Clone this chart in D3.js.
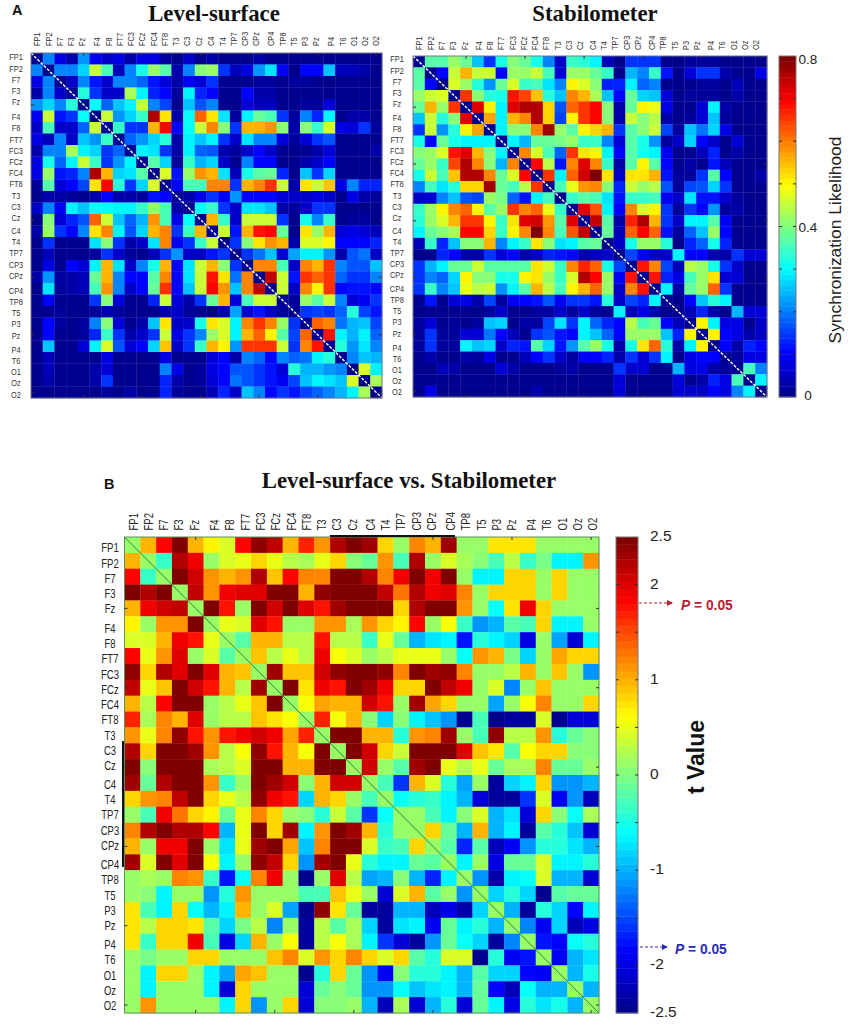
<!DOCTYPE html>
<html>
<head>
<meta charset="utf-8">
<style>
  html, body { margin: 0; padding: 0; background: #fff; }
  svg { display: block; font-family: "Liberation Sans", Arial, sans-serif; }
  .title { font-family: "Liberation Serif", "Times New Roman", serif; font-weight: bold; font-size: 22.8px; fill: #111; text-anchor: middle; }
  .panel-letter { font-weight: bold; font-size: 14.5px; fill: #111; }
  .frame-ticks path { display: none; }
  .cells { filter: blur(.45px); }
</style>
</head>
<body>
<div id="viz"></div>
<script src="https://cdn.jsdelivr.net/npm/d3@7"></script>
<script>
const channels = ["FP1","FP2","F7","F3","Fz","F4","F8","FT7","FC3","FCz","FC4","FT8","T3","C3","Cz","C4","T4","TP7","CP3","CPz","CP4","TP8","T5","P3","Pz","P4","T6","O1","Oz","O2"];

// upper triangle only, each row starts right of the diagonal (matrices are symmetric)
const levelSurface = [
  [.2,.08,.03,.22,.09,.06,.08,.03,.08,.08,.02,.01,.05,.01,.03,0,0,0,.03,.01,0,0,0,0,0,0,0,0,0],
  [.2,.2,.27,.45,.36,.04,.2,.32,.42,.37,.03,.2,.41,.42,.14,.04,.08,.22,.28,.09,0,.1,.1,.25,.04,.04,.03,0],
  [.05,.2,.12,.06,.2,.2,.18,.12,.07,.03,.09,.07,.14,.01,.01,.01,.02,.02,.01,.02,.02,0,0,0,0,0,0],
  [.33,.15,.05,.05,.43,.3,.13,.1,.02,.3,.13,.11,.01,.01,.1,.03,.03,0,0,0,0,0,0,0,0,0],
  [.31,.18,.26,.3,.46,.2,.16,.01,.26,.17,.2,.01,.01,.07,.04,.04,0,0,.02,.02,.07,0,0,0,0],
  [.45,.22,.27,.35,.75,.52,.03,.31,.62,.52,.28,.02,.29,.38,.36,.14,.02,.2,.13,.3,.01,.03,.03,.01],
  [.35,.15,.15,.56,.7,.1,.31,.46,.59,.41,.14,.55,.56,.58,.41,.03,.41,.35,.47,.08,.07,.15,.02],
  [.18,.22,.27,.33,.03,.3,.26,.3,.15,.05,.28,.2,.2,.07,.02,.07,.15,.17,0,0,0,0],
  [.3,.28,.15,.03,.3,.18,.17,.03,.02,.06,.1,.05,.01,0,.01,.03,.07,0,0,0,.03],
  [.37,.27,.02,.34,.24,.27,.06,.01,.2,.11,.1,.01,0,.03,.06,.1,0,0,0,0],
  [.47,.12,.42,.58,.56,.28,.04,.32,.37,.38,.13,.01,.25,.15,.27,0,0,0,0],
  [.11,.36,.36,.6,.6,.14,.55,.6,.65,.45,.03,.52,.46,.54,.08,.2,.13,.13],
  [.03,.08,.15,.09,.22,.11,.1,.1,.07,.05,.05,.08,.05,.01,.08,.03,.02],
  [.31,.34,.15,.05,.28,.28,.25,.03,.02,.06,.15,.15,.01,0,0,0],
  [.55,.34,.05,.46,.46,.46,.15,.01,.32,.2,.34,.01,.02,.02,.01],
  [.46,.12,.55,.68,.7,.38,.01,.52,.42,.56,.07,.08,.07,.04],
  [.14,.4,.52,.58,.55,.03,.47,.47,.51,.1,.1,.1,.13],
  [.14,.19,.25,.07,.23,.29,.29,.22,.03,.17,.19,.05],
  [.6,.6,.36,.06,.6,.55,.65,.2,.17,.17,.25],
  [.74,.45,.12,.65,.62,.65,.18,.14,.14,.2],
  [.46,.05,.6,.5,.66,.1,.12,.12,.1],
  [.02,.42,.37,.45,.2,.07,.09,.14],
  [.14,.16,.14,.18,.33,.16,.12],
  [.62,.6,.19,.24,.26,.16],
  [.68,.3,.24,.3,.18],
  [.33,.22,.28,.2],
  [.2,.25,.24],
  [.47,.3],
  [.43]
];

const stabilometer = [
  [.37,.37,.42,.38,.25,.14,.32,.41,.38,.32,.2,.06,.34,.33,.3,.04,.01,.14,.14,.14,0,0,.02,.02,.02,0,0,0,0],
  [.1,.46,.55,.45,.45,.1,.42,.42,.46,.36,.07,.42,.42,.38,.35,.01,.24,.2,.34,.12,0,.07,.15,.15,.03,0,0,.08],
  [.47,.42,.33,.22,.38,.47,.35,.36,.28,.2,.5,.47,.41,.13,.13,.3,.18,.2,.01,0,0,.02,.02,0,.04,0,0],
  [.65,.4,.33,.32,.68,.64,.54,.33,.25,.6,.55,.43,.25,.1,.38,.27,.25,.07,0,.02,.02,.02,0,.03,0,0],
  [.72,.5,.3,.72,.76,.76,.53,.17,.62,.66,.7,.4,.03,.38,.5,.48,.08,0,0,.07,.3,.03,0,0,0],
  [.57,.3,.55,.6,.76,.53,.16,.5,.66,.69,.41,.03,.45,.4,.44,.03,0,.02,.07,.26,.02,0,0,0],
  [.3,.4,.4,.59,.77,.42,.37,.51,.53,.56,.14,.37,.4,.45,.16,.02,.25,.19,.27,.08,0,0,0],
  [.3,.24,.38,.38,.39,.42,.34,.35,.21,.07,.37,.32,.22,.02,.06,.27,.11,.06,.01,.07,0,0],
  [.6,.47,.36,.18,.65,.52,.5,.3,.1,.37,.32,.3,.09,0,.01,.04,.13,.01,.03,0,0],
  [.7,.44,.12,.6,.72,.6,.35,.03,.37,.5,.37,.1,0,.03,.01,.12,.04,0,0,0],
  [.66,.3,.62,.73,.79,.52,.06,.52,.52,.55,.12,.02,.02,.15,.37,.1,0,0,.03],
  [.36,.48,.58,.6,.4,.13,.45,.42,.44,.17,.02,.16,.17,.27,.15,0,0,0],
  [.34,.37,.36,.28,.12,.34,.34,.36,.09,.05,.28,.12,.12,.06,.02,.01,.01],
  [.72,.63,.3,.1,.6,.47,.5,.15,.02,.15,.1,.22,.02,.03,0,0],
  [.74,.37,.03,.67,.75,.56,.15,.06,.29,.29,.37,.09,0,0,0],
  [.38,.04,.62,.7,.62,.12,.02,.18,.26,.42,.11,0,0,0],
  [.05,.32,.42,.42,.33,.01,.13,.18,.32,.13,0,0,0],
  [.16,.09,.06,.05,.3,.1,.1,.03,.03,.15,.07,.07],
  [.68,.6,.16,.04,.44,.42,.32,.15,.05,0,0],
  [.68,.13,.08,.36,.42,.52,.07,.07,0,0],
  [.3,.03,.38,.42,.62,.14,0,0,0],
  [.01,.1,.25,.33,.29,0,0,0],
  [.04,.13,.03,.01,.24,.07,.07],
  [.5,.3,.08,.08,.01,.05],
  [.5,.1,.08,.03,.05],
  [.11,.03,.13,.1],
  [.02,.08,.08],
  [.36,.2],
  [.3]
];

const tValues = [
  [.95,1.85,2.45,.95,.7,.45,1.8,2.4,2.15,1,1.7,1.15,2.2,2.45,2.3,.8,.1,1.2,1,2.3,.1,.1,.75,.75,.75,.1,.1,.1,.1],
  [-.35,2.2,1.9,.1,.45,.5,.85,.5,.25,.2,.5,.85,.05,-.1,1.1,-.3,2.2,.1,.45,.2,.05,-.3,.3,-.35,-.05,-.65,-.65,1.15],
  [2.45,2.1,1.1,.95,1.15,2.2,.9,1.8,1.2,1.2,2.45,2.45,2.2,1.2,1.95,2.45,1.9,2.45,.1,-.7,-.7,.8,.8,.1,.85,.1,.1],
  [2.15,1.1,1.95,2,2,2.45,2.45,1,2.4,2.45,2.45,2.45,2.15,1.3,2.2,1.95,2,1.2,.1,.8,.8,.8,.1,.85,.1,.1],
  [2.45,1.75,.15,2.45,2.1,2.45,2,1.75,2.3,2.45,2.45,2.45,.85,2.25,2.45,2.45,1.1,.1,-.6,.75,1.95,.85,.1,.1,.1],
  [.5,.4,2,1.75,.1,.15,1.15,1.1,.2,1.15,.8,.7,1.85,.15,.55,-.35,-1.1,-.95,-.2,-.25,.8,-.65,-.65,.1],
  [-.2,1,1,.25,.3,1.75,.3,.25,-.35,.5,-.15,-.95,-.75,-.7,-1.75,-.45,-.65,-.85,-2,.15,-1.05,-2.05,-.7],
  [.9,.3,.5,.3,1.95,.55,.4,.15,.3,.5,.5,.5,.15,-.55,1.15,1,-.05,-.8,.1,1.05,.85,.85],
  [2.3,.9,.9,2.05,2.4,2.45,2.45,2.4,1.2,2.45,2.3,2.4,1.2,.1,.1,.3,1,.1,.9,.1,-1.15],
  [2.45,.75,1.9,1.75,2.45,2.3,1.95,.8,.8,2.45,2.15,1.9,.1,.4,-1.2,.1,.9,.1,.1,.1],
  [.6,1.05,.95,1,2.05,1.75,.1,2.3,1.05,.85,.1,.1,-1.05,.1,.6,1.2,.1,.1,.8],
  [1.7,.6,1,.05,-.85,.05,-.65,-.9,-1.15,-2.5,-.3,-2.45,-2.4,-2.4,.45,-2.45,-2.1,-2.1],
  [2.45,2.45,1,1,-.4,1.1,1.2,2.3,.1,-.3,2.35,.3,.3,1.1,-.4,-.1,.05],
  [2.45,2.1,.8,.35,2.45,2.45,2.45,2,.9,.75,-.2,.6,.85,.85,.05,.05],
  [2.1,.15,-.2,2.3,2.45,.5,.25,.5,-.1,.2,.2,1.2,-.1,-.1,.1],
  [-.25,-1.6,.95,.45,-.4,-1.05,.1,-2.4,-.85,-.7,.8,-1.1,-1.1,-1],
  [-.6,-.45,-.35,-.65,-1,-2.05,-2.35,-2.4,-1.6,.45,-1.9,-1.15,-2.2],
  [.15,-.3,-.7,0,.4,-1,-.75,-2.1,.85,.05,-.6,.2],
  [.85,-.1,-1,.95,-.95,-.65,-2.4,-.2,-.4,-.9,-2.1],
  [-.2,-1.7,-.2,-2.25,-1.9,-1.1,-.45,-.4,-.75,-1],
  [-.65,.1,-2,-.1,-.1,.45,-.65,-.65,-.4],
  [-1.15,-2.3,-.65,-.6,.45,-1,-1,-2.1],
  [-.85,-.4,-.8,-2.45,-.2,-.15,-.1],
  [-.95,-2.4,-.4,-.8,-1.85,-.65],
  [-1.2,-1.95,-.85,-2.2,-2],
  [-1.75,-1.8,-.6,-.4],
  [-1.95,-.95,-.75],
  [-1,-.5],
  [-.95]
];

const syncTicks = [0, 0.4, 0.8];
const tTicks = [2.5, 2, 1, 0, -1, -2, -2.5];

const svg = d3.select("#viz")
  .append("svg")
  .attr("width", 850)
  .attr("height", 1025);

// 64 step jet colormap like the matlab figure
const jetStops = d3.scaleLinear()
  .domain([0, .125, .375, .625, .875, 1])
  .range(["#00008f", "#0000ff", "#00ffff", "#ffff00", "#ff0000", "#800000"])
  .clamp(true);

const jet = (vmin, vmax) => v => {
  let step = Math.min(63, Math.floor((v - vmin) / (vmax - vmin) * 64));
  return jetStops(step / 63);
};

function labelPositions(start, step, gaps) {
  let extra = 0;
  return channels.map((c, i) => {
    let p = start + step * i + extra;
    extra += gaps[c] || 0;
    return p;
  });
}

function drawMatrix(o) {
  const x = d3.scaleBand().domain(channels).range([o.x0, o.x1]);
  const y = d3.scaleBand().domain(channels).range([o.y0, o.y1]);
  const color = jet(o.vmin, o.vmax);

  let cells = [];
  channels.forEach((c, i) => {
    cells.push({row: c, col: c, v: o.diag});
    o.rows[i] && o.rows[i].forEach((v, k) => {
      let other = channels[i + k + 1];
      cells.push({row: c, col: other, v: v});
      cells.push({row: other, col: c, v: v});
    });
  });

  const g = svg.append("g");
  g.append("g")
    .attr("class", "cells")
    .selectAll("rect")
    .data(cells)
    .join("rect")
      .attr("x", d => x(d.col))
      .attr("y", d => y(d.row))
      .attr("width", x.bandwidth() + .3)
      .attr("height", y.bandwidth() + .3)
      .attr("fill", d => color(d.v));

  // diagonal
  g.append("line")
    .attr("x1", o.x0).attr("y1", o.y0)
    .attr("x2", o.x1).attr("y2", o.y1)
    .attr("stroke", o.diagColor)
    .attr("stroke-width", o.diagWidth)
    .attr("stroke-dasharray", o.diagDash);

  g.append("rect")
    .attr("x", o.x0).attr("y", o.y0)
    .attr("width", o.x1 - o.x0).attr("height", o.y1 - o.y0)
    .attr("fill", "none")
    .attr("stroke", o.frame);

  // small inward ticks, every fifth channel
  const fifth = channels.filter((c, i) => i % 5 == 4);
  const tickAxes = [
    [d3.axisBottom(x), `translate(0,${o.y1})`, -3],
    [d3.axisTop(x), `translate(0,${o.y0})`, -3],
    [d3.axisLeft(y), `translate(${o.x0},0)`, -3],
    [d3.axisRight(y), `translate(${o.x1},0)`, -3]
  ];
  tickAxes.forEach(a => {
    g.append("g")
      .attr("class", "frame-ticks")
      .attr("transform", a[1])
      .call(a[0].tickValues(fifth).tickSize(a[2]).tickFormat(""))
      .selectAll("line").attr("stroke", "#333");
  });

  // tick labels: squeezed like in the source figure, positions have small jumps
  const left = labelPositions(o.leftY, o.leftStep, o.leftGaps);
  const top = labelPositions(o.topX, o.topStep, o.topGaps);

  g.append("g").selectAll("text")
    .data(channels)
    .join("text")
      .attr("transform", (d, i) => `translate(${o.leftX},${left[i] + o.font * .36}) scale(.76,1)`)
      .attr("text-anchor", "middle")
      .attr("font-size", o.font)
      .attr("fill", o.labelColor)
      .text(d => d);

  g.append("g").selectAll("text")
    .data(channels)
    .join("text")
      .attr("transform", (d, i) => `translate(${top[i] + o.font * .36},${o.topBase}) rotate(-90) scale(.76,1)`)
      .attr("text-anchor", "start")
      .attr("font-size", o.font)
      .attr("fill", o.labelColor)
      .text(d => d);
}

function drawColorbar(o) {
  const scale = d3.scaleLinear().domain([o.vmin, o.vmax]).range([o.y1, o.y0]);
  const labelScale = scale.copy().range([o.y1 - o.labelInset, o.y0 + o.labelInset]);
  const color = jet(o.vmin, o.vmax);
  const dv = (o.vmax - o.vmin) / 64;
  const g = svg.append("g");

  g.selectAll("rect")
    .data(d3.range(64))
    .join("rect")
      .attr("x", o.x0)
      .attr("y", i => scale(o.vmin + dv * (i + 1)))
      .attr("width", o.x1 - o.x0)
      .attr("height", i => scale(o.vmin + dv * i) - scale(o.vmin + dv * (i + 1)) + .4)
      .attr("fill", i => color(o.vmin + dv * (i + .5)));

  g.append("rect")
    .attr("x", o.x0).attr("y", o.y0)
    .attr("width", o.x1 - o.x0).attr("height", o.y1 - o.y0)
    .attr("fill", "none").attr("stroke", "#777");

  // inner ticks on both edges
  g.selectAll("path.tick")
    .data(d3.range(1, o.nTicks))
    .join("path")
      .attr("class", "tick")
      .attr("d", i => {
        let ty = scale(o.vmin + (o.vmax - o.vmin) * i / o.nTicks);
        return `M${o.x0},${ty}h3M${o.x1},${ty}h-3`;
      })
      .attr("stroke", "#333")
      .attr("fill", "none");

  g.selectAll("text")
    .data(o.ticks)
    .join("text")
      .attr("x", o.labelX)
      .attr("y", d => labelScale(d) + o.labelDy)
      .attr("text-anchor", o.anchor)
      .attr("font-size", o.font)
      .attr("fill", "#222")
      .text(d => d);
}

// Panel A
svg.append("text").attr("class", "panel-letter").attr("x", 12).attr("y", 15).text("A");
svg.append("text").attr("class", "title").attr("x", 214).attr("y", 20.5).text("Level-surface");
svg.append("text").attr("class", "title").attr("x", 595).attr("y", 20.5).text("Stabilometer");

drawMatrix({
  rows: levelSurface, vmin: 0, vmax: .8, diag: 0,
  x0: 31, x1: 382, y0: 53, y1: 398,
  diagColor: "#fff", diagWidth: 1.4, diagDash: "3,1.5", frame: "#778",
  leftX: 16, leftY: 57, leftStep: 11.2, leftGaps: {Fz: 3.8, Cz: 1.8, CPz: 3.8, Pz: 3},
  topX: 37, topStep: 11.25, topGaps: {Fz: 3.7, Cz: 1.5, CPz: 3.7, Pz: 3.7}, topBase: 46,
  font: 9.7, labelColor: "#333"
});

drawMatrix({
  rows: stabilometer, vmin: 0, vmax: .8, diag: 0,
  x0: 413, x1: 767, y0: 56, y1: 397,
  diagColor: "#fff", diagWidth: 1.4, diagDash: "3,1.5", frame: "#778",
  leftX: 397, leftY: 59, leftStep: 11.1, leftGaps: {Fz: 2.9, Cz: 1.9, CPz: 2.9, Pz: 2.9},
  topX: 419, topStep: 11.3, topGaps: {Fz: 2.7, Cz: 1, CPz: 3, Pz: 2.4}, topBase: 50,
  font: 9.7, labelColor: "#333"
});

drawColorbar({
  vmin: 0, vmax: .8, x0: 779, x1: 796, y0: 56, y1: 397, nTicks: 8,
  ticks: syncTicks, labelX: 808, labelInset: 2.5, labelDy: 5, anchor: "middle", font: 13.5
});

svg.append("text")
  .attr("transform", "translate(841,240) rotate(-90)")
  .attr("text-anchor", "middle")
  .attr("font-size", 17.4)
  .attr("fill", "#222")
  .text("Synchronization Likelihood");

// Panel B
svg.append("text").attr("class", "panel-letter").attr("x", 104).attr("y", 489).text("B");
svg.append("text").attr("class", "title").attr("x", 409).attr("y", 488).text("Level-surface vs. Stabilometer");

drawMatrix({
  rows: tValues, vmin: -2.5, vmax: 2.5, diag: .1,
  x0: 124.5, x1: 599, y0: 537, y1: 1013,
  diagColor: "#2f7d3a", diagWidth: 1, diagDash: null, frame: "#5f8f62",
  leftX: 110, leftY: 547.7, leftStep: 15.3, leftGaps: {Fz: 3.9, Cz: 3, CPz: 3.8, Pz: 3.7},
  topX: 133, topStep: 15.3, topGaps: {Fz: 5, Cz: 2.7, CPz: 3.7, Pz: 4.7}, topBase: 530.5,
  font: 12.5, labelColor: "#222"
});

// the dark strokes left on the frame in the original figure
svg.append("path")
  .attr("d", "M330,536H455M123,741V867")
  .attr("stroke", "#111")
  .attr("stroke-width", 2)
  .attr("fill", "none");

drawColorbar({
  vmin: -2.5, vmax: 2.5, x0: 616, x1: 638, y0: 537, y1: 1013, nTicks: 10,
  ticks: tTicks, labelX: 650, labelInset: 0, labelDy: 4, anchor: "start", font: 15.5
});

svg.append("text")
  .attr("transform", "translate(704,757) rotate(-90)")
  .attr("text-anchor", "middle")
  .attr("font-size", 23)
  .attr("font-weight", "bold")
  .attr("fill", "#111")
  .text("t Value");

// P = 0.05 markers
const defs = svg.append("defs");
[["red", "#b3202e"], ["blue", "#2a2ab5"]].forEach(m => {
  defs.append("marker")
    .attr("id", "arrow-" + m[0])
    .attr("viewBox", "0 0 6 6")
    .attr("refX", 5).attr("refY", 3)
    .attr("markerWidth", 6).attr("markerHeight", 6)
    .attr("orient", "auto")
    .append("path").attr("d", "M0,0L6,3L0,6Z").attr("fill", m[1]);
});

function pMarker(x1, x2, y, textX, name, col) {
  svg.append("line")
    .attr("x1", x1).attr("x2", x2).attr("y1", y).attr("y2", y)
    .attr("stroke", col)
    .attr("stroke-dasharray", "3,2")
    .attr("marker-end", `url(#arrow-${name})`);
  let t = svg.append("text")
    .attr("x", textX).attr("y", y + 7)
    .attr("font-size", 13.8)
    .attr("font-weight", "bold")
    .attr("fill", col);
  t.append("tspan").attr("font-style", "italic").text("P");
  t.append("tspan").text(" = 0.05");
}
pMarker(639, 672, 603, 681, "red", "#b3202e");
pMarker(640, 667, 947, 675, "blue", "#2a2ab5");
</script>
</body>
</html>
